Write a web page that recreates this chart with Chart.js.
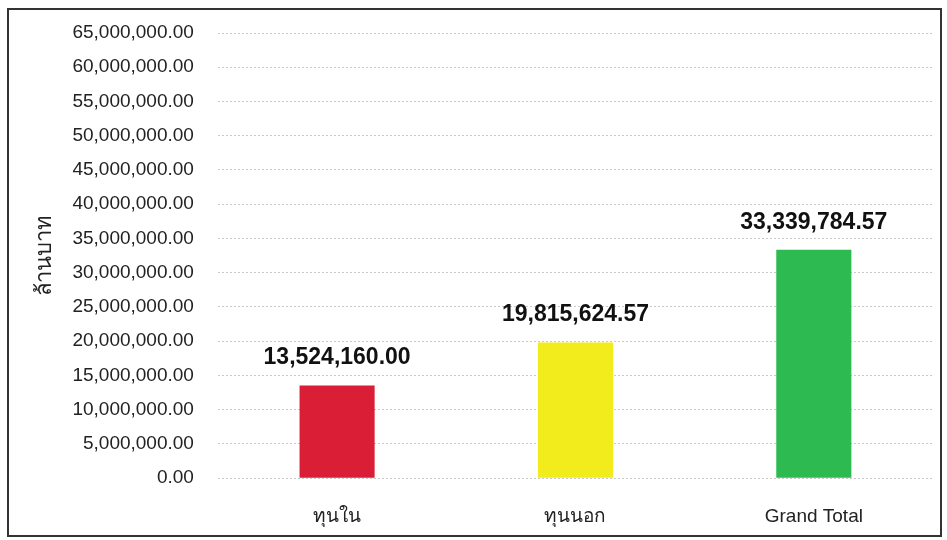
<!DOCTYPE html>
<html>
<head>
<meta charset="utf-8">
<script src="https://cdn.jsdelivr.net/npm/chart.js@4"></script>
<style>
  html, body { margin: 0; padding: 0; background: #fff; }
  #wrap { position: relative; width: 947px; height: 540px; }
</style>
</head>
<body>
<div id="wrap"><canvas id="capitalChart"></canvas></div>
<script>
// data
const categories = ['ทุนใน', 'ทุนนอก', 'Grand Total'];
const amounts = [13524160.00, 19815624.57, 33339784.57];
const barColors = ['#d91e36', '#f2ec1c', '#2dba50'];
const yMax = 65000000;
const yStep = 5000000;
const yTitle = 'ล้านบาท';

const fmt = v => v.toLocaleString('en-US', { minimumFractionDigits: 2, maximumFractionDigits: 2 });

// frame + value labels on top of bars
const extras = {
    id: 'extras',
    afterDatasetsDraw(chart) {
        const c = chart.ctx;
        const meta = chart.getDatasetMeta(0);
        c.save();
        c.fillStyle = '#111';
        c.font = 'bold 23px "Liberation Sans", Arial, sans-serif';
        c.textAlign = 'center';
        c.textBaseline = 'bottom';
        meta.data.forEach((bar, i) => {
            c.fillText(fmt(amounts[i]), bar.x, bar.y - 16);
        });
        c.restore();
    },
    afterDraw(chart) {
        const c = chart.ctx;
        c.save();
        c.strokeStyle = '#333';
        c.lineWidth = 2;
        c.strokeRect(8, 9, 933, 527);
        c.restore();
    }
};

const ctx = document.getElementById('capitalChart').getContext('2d');
new Chart(ctx, {
    type: 'bar',
    data: {
        labels: categories,
        datasets: [{
            data: amounts,
            backgroundColor: barColors,
            barPercentage: 0.63,
            categoryPercentage: 0.5
        }]
    },
    options: {
        responsive: true,
        maintainAspectRatio: false,
        animation: false,
        layout: { padding: { left: 32, top: 33, right: 14, bottom: -7 } },
        plugins: { legend: { display: false }, tooltip: { enabled: false } },
        scales: {
            x: {
                grid: { display: false },
                border: { display: false },
                ticks: {
                    color: '#222',
                    padding: 19,
                    font: { family: '"Liberation Sans", Arial, "Noto Sans", sans-serif', size: 19 }
                }
            },
            y: {
                min: 0,
                max: yMax,
                afterFit: s => { s.width -= 10; s.paddingTop = 0; s.paddingBottom = 0; },
                ticks: {
                    stepSize: yStep,
                    color: '#222',
                    padding: 24,
                    font: { family: '"Liberation Sans", Arial, sans-serif', size: 19 },
                    callback: v => fmt(v)
                },
                grid: { color: '#c8c8c8', lineWidth: 1, drawTicks: false },
                border: { display: false, dash: [2, 2] },
                title: {
                    display: true,
                    text: yTitle,
                    color: '#222',
                    padding: { top: 0, bottom: 0 },
                    font: { family: '"Noto Sans", "DejaVu Sans", sans-serif', size: 22 }
                }
            }
        }
    },
    plugins: [extras]
});
</script>
</body>
</html>
